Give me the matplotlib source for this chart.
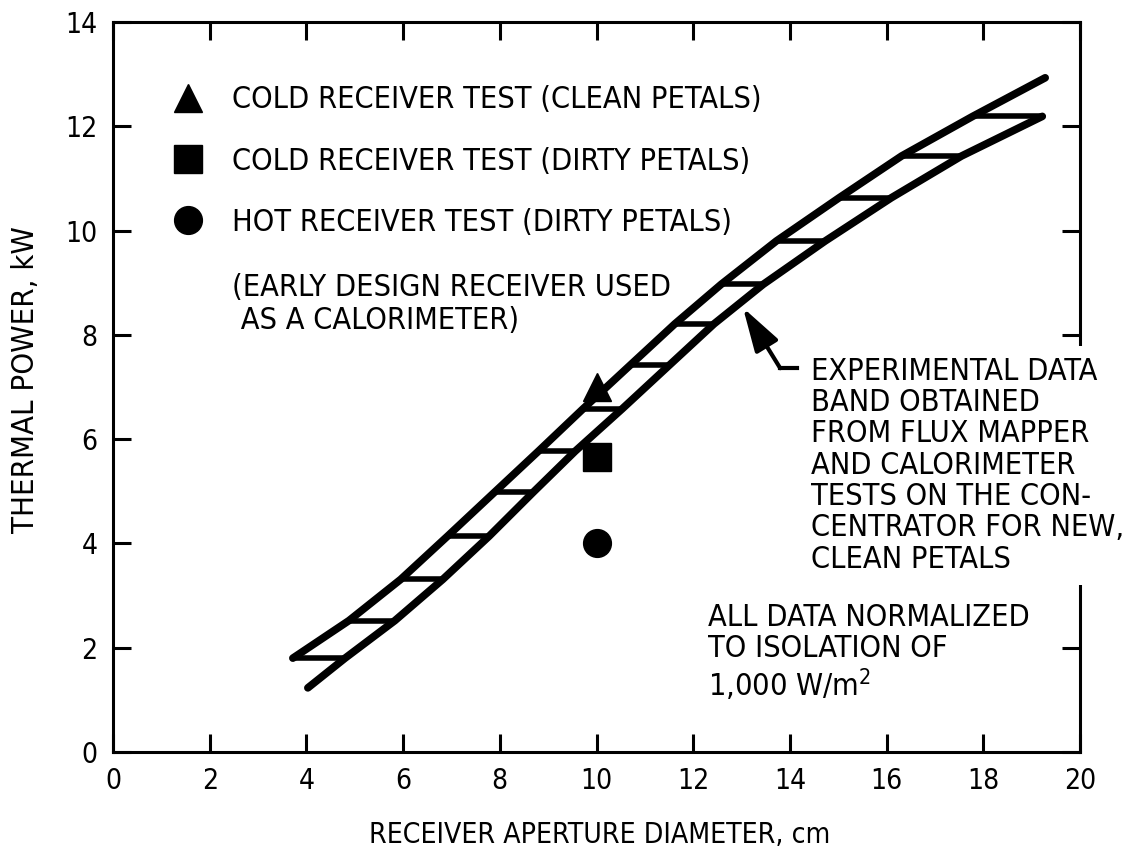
import matplotlib
matplotlib.use("Agg")
import matplotlib.pyplot as plt
from matplotlib.lines import Line2D
from matplotlib.textpath import TextPath
from matplotlib.font_manager import FontProperties

plt.rcParams["font.family"] = ["DejaVu Sans"]
plt.rcParams["font.stretch"] = "condensed"

# hatch levels of the experimental data band and where each one meets the
# upper and lower boundary curves (read off the figure)
hatch_y = [1.80, 2.52, 3.31, 4.14, 4.99, 5.77, 6.58, 7.43, 8.21, 8.97, 9.80, 10.63, 11.43, 12.19]
upper_x = [3.72, 4.88, 5.95, 6.92, 7.90, 8.80, 9.72, 10.71, 11.62, 12.58, 13.72, 15.02, 16.31, 17.78]
lower_x = [4.80, 5.83, 6.82, 7.78, 8.70, 9.56, 10.53, 11.52, 12.43, 13.45, 14.73, 16.10, 17.55, 19.22]
upper_end = (19.28, 12.93)
lower_start = (4.03, 1.23)

# receiver tests at 10 cm aperture
test_labels = [
    "COLD RECEIVER TEST (CLEAN PETALS)",
    "COLD RECEIVER TEST (DIRTY PETALS)",
    "HOT RECEIVER TEST (DIRTY PETALS)",
]
test_markers = ["^", "s", "o"]
test_x = [10.0, 10.0, 10.0]
test_y = [7.0, 5.65, 4.0]

xticks = list(range(0, 21, 2))
yticks = list(range(0, 15, 2))

DPI = 100
prop = FontProperties(family="DejaVu Sans", stretch="condensed")


def fit_size(s, target_px):
    # font size (pt) that makes the inked width of s equal target_px
    w = TextPath((0, 0), s, size=10, prop=prop).get_extents().width
    return 10 * target_px * 72 / DPI / w


fs_note = fit_size(test_labels[0], 525)
fs_tick = fit_size("14", 28)
fs_xlab = fit_size("RECEIVER APERTURE DIAMETER, cm", 457)
fs_ylab = fit_size("THERMAL POWER, kW", 305)
em_px = fs_note * DPI / 72
ls_note = 32 / (0.95 * em_px)

fig = plt.figure(figsize=(11.4, 8.49), dpi=DPI)
ax = fig.add_axes([113 / 1140, 1 - 752 / 849, 967 / 1140, 730 / 849])
ax.set_xlim(0, 20)
ax.set_ylim(0, 14)

for s in ax.spines.values():
    s.set_linewidth(2.2)
ax.set_xticks(xticks)
ax.set_yticks(yticks)
ax.tick_params(direction="in", length=13, width=2.2, top=True, right=True,
               labelsize=fs_tick, pad=11)

# band boundaries
up_x = upper_x + [upper_end[0]]
up_y = hatch_y + [upper_end[1]]
lo_x = [lower_start[0]] + lower_x
lo_y = [lower_start[1]] + hatch_y
for xs, ys in [(up_x, up_y), (lo_x, lo_y)]:
    ax.plot(xs, ys, color="black", lw=5.5, solid_capstyle="round",
            solid_joinstyle="round", zorder=3)
# horizontal hatch lines joining the two boundaries
for y, x0, x1 in zip(hatch_y, upper_x, lower_x):
    ax.plot([x0, x1], [y, y], color="black", lw=4, solid_capstyle="round", zorder=3)

handles = []
for lab, m, x, y in zip(test_labels, test_markers, test_x, test_y):
    ax.plot([x], [y], marker=m, color="black", markersize=20, ls="none", zorder=5)
    handles.append(Line2D([], [], marker=m, color="black", markersize=20, ls="none"))

handle_len = 1.0
legend_left = (188 - handle_len * em_px / 2 - 113) / 967
text_pad = (232 - 188 - handle_len * em_px / 2) / em_px
ax.legend(handles, test_labels, loc="upper left",
          bbox_to_anchor=(legend_left, (752 - 97 + 0.38 * em_px) / 730),
          frameon=False, fontsize=fs_note, handlelength=handle_len,
          handletextpad=text_pad, labelspacing=1.06, borderpad=0, borderaxespad=0)

ax.text(2.46, 8.59, "(EARLY DESIGN RECEIVER USED\n AS A CALORIMETER)",
        fontsize=fs_note, ha="left", va="center",
        linespacing=35 / (0.95 * em_px))

ax.text(14.44, 5.5,
        "EXPERIMENTAL DATA\nBAND OBTAINED\nFROM FLUX MAPPER\nAND CALORIMETER\n"
        "TESTS ON THE CON-\nCENTRATOR FOR NEW,\nCLEAN PETALS",
        fontsize=fs_note, ha="left", va="center", linespacing=ls_note, zorder=6,
        clip_on=False, bbox=dict(facecolor="white", edgecolor="none", pad=8))

ax.text(12.31, 1.9, "ALL DATA NORMALIZED\nTO ISOLATION OF\n1,000 W/m$^2$",
        fontsize=fs_note, ha="left", va="center", linespacing=ls_note)

# pointer from the note to the band
ax.plot([14.15, 13.80], [7.36, 7.36], color="black", lw=3, zorder=4)
ax.annotate("", xy=(13.03, 8.52), xytext=(13.80, 7.36),
            arrowprops=dict(arrowstyle="-|>,head_length=0.9,head_width=0.27",
                            color="black", lw=3, mutation_scale=30,
                            shrinkA=0, shrinkB=0), zorder=4)

fig.text(600 / 1140, 1 - 835 / 849, "RECEIVER APERTURE DIAMETER, cm",
         ha="center", va="center", fontsize=fs_xlab)
fig.text(26 / 1140, 1 - 380 / 849, "THERMAL POWER, kW", rotation=90,
         ha="center", va="center", fontsize=fs_ylab)

fig.savefig("out.png", dpi=DPI)
